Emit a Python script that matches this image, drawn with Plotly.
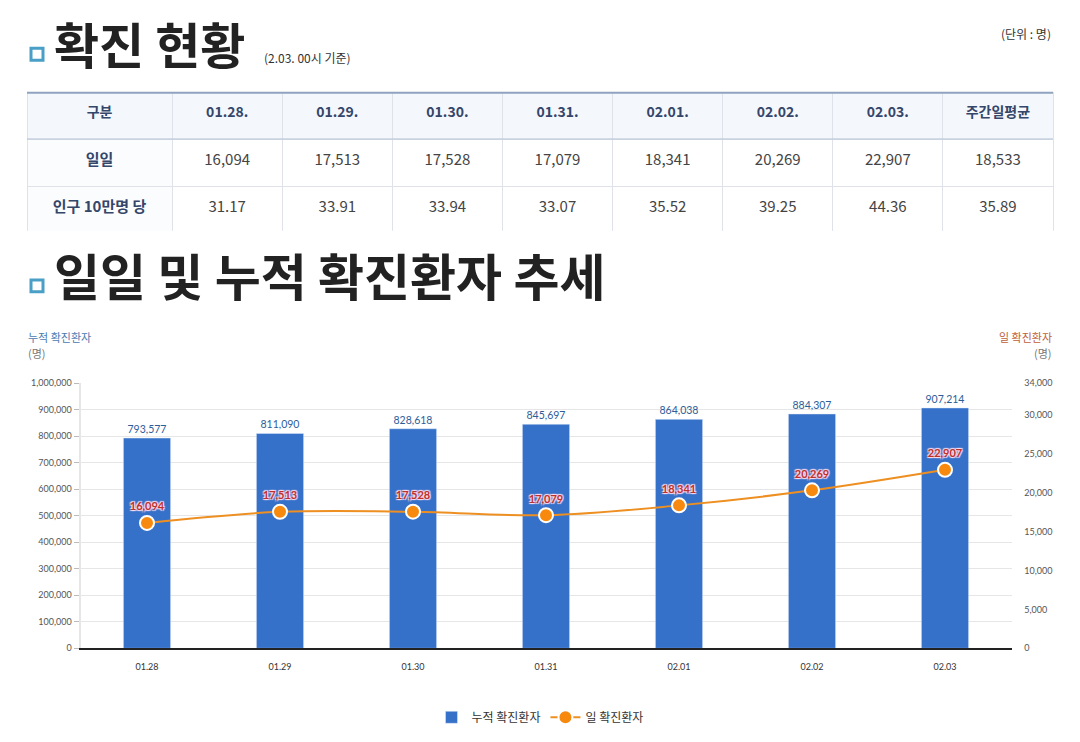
import plotly.graph_objects as go

# table data
table_dates = ['01.28.', '01.29.', '01.30.', '01.31.', '02.01.', '02.02.', '02.03.']
daily = [16094, 17513, 17528, 17079, 18341, 20269, 22907]
daily_avg = 18533
per_100k = [31.17, 33.91, 33.94, 33.07, 35.52, 39.25, 44.36]
per_100k_avg = 35.89

# chart data
chart_dates = ['01.28', '01.29', '01.30', '01.31', '02.01', '02.02', '02.03']
cumulative = [793577, 811090, 828618, 845697, 864038, 884307, 907214]

W, H = 1080, 742
KR = "Noto Sans CJK KR"
NUM = "Lato"

def py(p):
    return 1 - p / H

def px(p):
    return p / W

fig = go.Figure()

# summary table
header = ['구분'] + table_dates + ['주간일평균']
col_first = ['일일', '인구 10만명 당']
cols = [[f"<b>{v}</b>" for v in col_first]]
for d, p in zip(daily, per_100k):
    cols.append([f"<span>{d:,}</span>", f"<span>{p:.2f}</span>"])
cols.append([f"<span>{daily_avg:,}</span>", f"<span>{per_100k_avg:.2f}</span>"])

fig.add_trace(go.Table(
    domain=dict(x=[px(27), px(1053)], y=[py(229), py(88)]),
    columnwidth=[145] + [110] * 8,
    header=dict(values=[f"<b>{h}</b>" for h in header],
                fill_color='#f4f7fc', line_color='#dfe3e9',
                font=dict(family=KR, size=14, color='#34466a'),
                align='center', height=47),
    cells=dict(values=cols,
               fill_color=[['#fbfcfe'] * 2] + [['#ffffff'] * 2] * 8,
               line_color='#dfe3e9',
               font=dict(family=KR, size=15, color=['#34466a'] + ['#444444'] * 8),
               align='center', height=47),
))

# bars: cumulative
fig.add_trace(go.Bar(
    x=chart_dates, y=cumulative, name='누적 확진환자',
    marker=dict(color='#3570c9'), width=0.355,
    text=cumulative, texttemplate='%{y:,}', textposition='outside',
    textfont=dict(family=NUM, size=10.5, color='#2d5d99'),
    cliponaxis=False,
))

# line: daily
fig.add_trace(go.Scatter(
    x=chart_dates, y=daily, name='일 확진환자', yaxis='y2',
    mode='lines+markers+text', line=dict(color='#ee8f22', width=2, shape='spline'),
    marker=dict(size=14, color='#f7890f', line=dict(color='white', width=2)),
    text=daily, texttemplate='%{y:,}', textposition='top center',
    textfont=dict(family=NUM, size=11, color='#c0302a', weight='bold',
                  shadow='1px 1px 1px #fde, -1px -1px 1px #fde, 1px -1px 1px #fde, -1px 1px 1px #fde'),
    cliponaxis=False,
))

shapes = [
    # table top and header borders
    dict(type='line', xref='paper', yref='paper', x0=px(27), x1=px(1053), y0=py(88), y1=py(88),
         line=dict(color='#8fa3c0', width=2)),
    dict(type='line', xref='paper', yref='paper', x0=px(27), x1=px(1053), y0=py(135), y1=py(135),
         line=dict(color='#b3c1d4', width=1)),
]
# title icons
for top in (43, 278):
    shapes.append(dict(type='rect', xref='paper', yref='paper',
                       x0=px(31), x1=px(43), y0=py(top + 12), y1=py(top),
                       line=dict(color='#4a9fc6', width=3), fillcolor='white'))

annotations = [
    dict(text='확진 현황', x=px(52), y=py(37), xanchor='left', yanchor='middle',
         font=dict(family=KR, size=49, color='#222222', weight='bold')),
    dict(text='(2.03. 00시 기준)', x=px(262), y=py(52), xanchor='left', yanchor='middle',
         font=dict(family=KR, size=12, color='#333333')),
    dict(text='(단위 : 명)', x=px(1053), y=py(28), xanchor='right', yanchor='middle',
         font=dict(family=KR, size=12, color='#333333')),
    dict(text='일일 및 누적 확진환자 추세', x=px(52), y=py(272), xanchor='left', yanchor='middle',
         font=dict(family=KR, size=50, color='#222222', weight='bold')),
    dict(text='누적 확진환자', x=px(26), y=py(336), xanchor='left', yanchor='middle',
         font=dict(family=KR, size=11, color='#4a7ab0')),
    dict(text='(명)', x=px(26), y=py(352), xanchor='left', yanchor='middle',
         font=dict(family=KR, size=11, color='#777777')),
    dict(text='일 확진환자', x=px(1054), y=py(336), xanchor='right', yanchor='middle',
         font=dict(family=KR, size=11, color='#c0603a')),
    dict(text='(명)', x=px(1054), y=py(352), xanchor='right', yanchor='middle',
         font=dict(family=KR, size=11, color='#777777')),
]
for a in annotations:
    a.update(xref='paper', yref='paper', showarrow=False)

fig.update_layout(
    width=W, height=H,
    margin=dict(l=0, r=0, t=0, b=0),
    paper_bgcolor='white', plot_bgcolor='white',
    font=dict(family=NUM, color='#333333'),
    shapes=shapes, annotations=annotations,
    xaxis=dict(domain=[px(80.5), px(1011.5)], anchor='y',
               showline=True, linecolor='#222222', linewidth=1.5,
               ticks='outside', ticklen=9, tickcolor='rgba(0,0,0,0)',
               tickfont=dict(family=NUM, size=9, color='#333333')),
    yaxis=dict(domain=[py(652), py(383)], range=[0, 1000000], dtick=100000,
               tickformat=',d', showgrid=True, gridcolor='#e6e6e6', zeroline=False,
               showline=True, linecolor='#e6e6e6', linewidth=2,
               ticks='outside', ticklen=5, tickcolor='#bbbbbb',
               tickfont=dict(family=NUM, size=9, color='#555555')),
    yaxis2=dict(overlaying='y', side='right', range=[0, 34000],
                tickvals=[0, 5000, 10000, 15000, 20000, 25000, 30000, 34000],
                tickformat=',d', showgrid=False, zeroline=False, showline=False,
                ticks='outside', ticklen=10, tickcolor='rgba(0,0,0,0)',
                tickfont=dict(family=NUM, size=9, color='#555555')),
    showlegend=True,
    legend=dict(orientation='h', x=0.5, xanchor='center', y=py(722), yanchor='middle',
                font=dict(family=KR, size=12, color='#333333'), itemwidth=30,
                traceorder='normal'),
    bargap=0.5,
)

# drop the default body margin so the figure fills the window exactly
fig.write_html("out.html", config={'displayModeBar': False},
               post_script="document.body.style.margin='0';document.body.style.overflow='hidden';")
